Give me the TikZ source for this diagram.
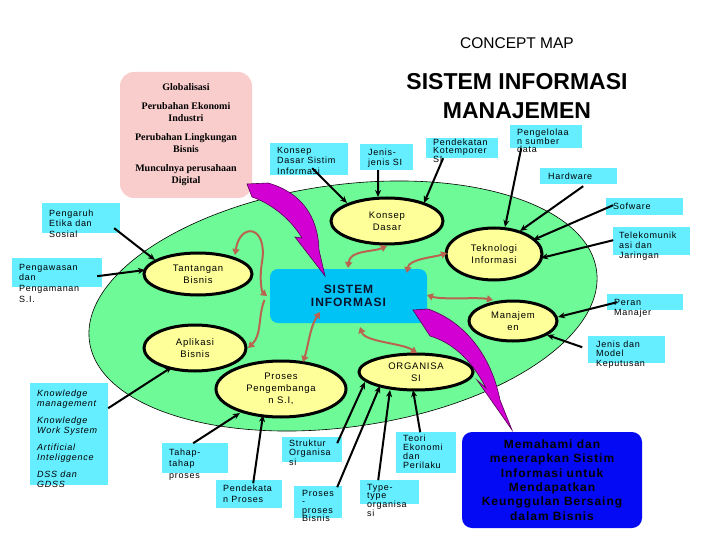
\documentclass[tikz,border=0pt]{standalone}
\usepackage{fontspec}
\setmainfont{Liberation Sans}
\newfontfamily\lblfont[LetterSpace=8]{Liberation Sans}
\newfontfamily\serifb{Liberation Serif}
\usetikzlibrary{shapes.geometric,arrows.meta,calc}
\definecolor{fieldgreen}{RGB}{110,250,150}
\definecolor{yelfill}{RGB}{255,255,153}
\definecolor{cyanlbl}{RGB}{100,238,255}
\definecolor{siboxc}{RGB}{0,195,245}
\definecolor{pinkbg}{RGB}{250,205,205}
\definecolor{brownar}{RGB}{185,100,80}
\definecolor{magar}{RGB}{210,0,210}
\definecolor{blueboxc}{RGB}{5,10,245}
\definecolor{navy}{RGB}{10,20,45}
\newcommand{\lab}[9]{%
  \node[cbox, minimum width=#4pt, minimum height=#5pt] (#1) at (#2,#3) {};
  \node[ctext, font=\lblfont\fontsize{9}{#8}\selectfont] (#1t) at ([shift={(#6pt,-#7pt)}]#1.north west) {#9};}
\begin{document}
\begin{tikzpicture}[x=1pt,y=-1pt,
  yell/.style={ellipse, draw=black, line width=3pt, fill=yelfill, inner sep=0pt, align=center,
    font=\lblfont\fontsize{9.5}{12}\selectfont},
  cbox/.style={rectangle, fill=cyanlbl, inner sep=0pt, anchor=north west},
  ctext/.style={anchor=north west, inner sep=0pt, align=left},
  blk/.style={line width=2pt, -{Stealth[length=7pt,width=6pt]}},
  brw/.style={draw=brownar, line width=2pt, {Triangle[length=6pt,width=7pt]}-{Triangle[length=6pt,width=7pt]}},
  brwone/.style={draw=brownar, line width=2pt, -{Triangle[length=6pt,width=7pt]}},
  mag/.style={fill=magar, draw=black!60!magar, line width=0.6pt}]
\fill[white] (0,0) rectangle (720,540);
\useasboundingbox (0,0) rectangle (720,540);

% field
\node[draw=black, line width=0.6pt, fill=fieldgreen, ellipse, minimum width=512pt, minimum height=242pt, rotate=8, inner sep=0pt] (field) at (343,306) {};

% pink context box
\node[fill=pinkbg, rounded corners=14pt, minimum width=132pt, minimum height=126pt, inner sep=0pt, align=center,
  font=\serifb\bfseries\fontsize{10}{12.5}\selectfont] (ctx) at (186,135)
  {Globalisasi\\[6pt]Perubahan Ekonomi\\Industri\\[6pt]Perubahan Lingkungan\\Bisnis\\[6pt]Munculnya perusahaan\\Digital};

% titles
\node[font=\fontsize{15.5}{17}\selectfont] (cm) at (517,43) {CONCEPT MAP};
\node[font=\bfseries\fontsize{23}{28.5}\selectfont, align=center] (title) at (517,96) {SISTEM INFORMASI\\MANAJEMEN};

% cyan labels
\lab{kdsi}{270}{143}{78}{32}{7}{3.7}{10.5}{Konsep\\Dasar Sistim\\Informasi}
\lab{js}{360}{144}{53}{26}{8}{4.7}{10}{Jenis-\\jenis SI}
\lab{pk}{426}{138}{72}{20}{7}{0.7}{8.5}{Pendekatan\\Kotemporer\\SI}
\lab{psd}{510}{125}{72}{23}{7}{3.7}{8}{Pengelolaa\\n sumber\\data}
\lab{hw}{540}{168}{77}{16}{8}{4.7}{10}{Hardware}
\lab{sw}{606}{198}{77}{17}{7}{4.7}{10}{Sofware}
\lab{tel}{613}{227}{77}{28}{6}{4.7}{10}{Telekomunik\\asi dan\\Jaringan}
\lab{pm}{607}{294}{76}{16}{7}{4.7}{10}{Peran\\Manajer}
\lab{jmk}{588}{336}{77}{27}{8}{4.7}{9.5}{Jenis dan\\Model\\Keputusan}
\lab{pes}{42}{203}{78}{30}{7}{6.7}{10.5}{Pengaruh\\Etika dan\\Sosial}
\lab{pp}{12}{258}{90}{29}{7}{5.7}{10.7}{Pengawasan\\dan\\Pengamanan\\S.I.}
\lab{kn}{30}{383}{78}{102}{7}{6.7}{10}{\itshape Knowledge\\\itshape management\\[7pt]\itshape Knowledge\\\itshape Work System\\[7pt]\itshape Artificial\\\itshape Inteliggence\\[7pt]\itshape DSS dan\\\itshape GDSS}
\lab{tt}{162}{443}{66}{30}{7}{5.7}{11.5}{Tahap-\\tahap\\proses}
\lab{pdp}{216}{480}{66}{28}{7}{4.7}{11}{Pendekata\\n Proses}
\lab{so}{282}{437}{60}{25}{7}{2.7}{9.5}{Struktur\\Organisa\\si}
\lab{ppb}{294}{486}{48}{32}{8}{3.7}{8.5}{Proses\\-\\proses\\Bisnis}
\lab{tto}{360}{480}{59}{24}{7}{3.7}{8.7}{Type-\\type\\organisa\\si}
\lab{te}{396}{432}{60}{41}{7}{2.7}{9}{Teori\\Ekonomi\\dan\\Perilaku}

% yellow ellipses
\node[yell, minimum width=112pt, minimum height=46pt] (kd) at (387,221) {Konsep\\Dasar};
\node[yell, minimum width=96pt, minimum height=52pt] (ti) at (494,254) {Teknologi\\Informasi};
\node[yell, minimum width=108pt, minimum height=42pt] (tb) at (198,274) {Tantangan\\Bisnis};
\node[yell, minimum width=102pt, minimum height=46pt] (ab) at (195,348) {Aplikasi\\Bisnis};
\node[yell, minimum width=130pt, minimum height=56pt] (ppsi) at (281,389) {Proses\\Pengembanga\\n S.I,};
\node[yell, minimum width=114pt, minimum height=36pt] (org) at (416,372) {ORGANISA\\SI};
\node[yell, minimum width=88pt, minimum height=40pt] (mj) at (513,321) {Manajem\\en};

% central box
\node[fill=siboxc, rounded corners=8pt, minimum width=157pt, minimum height=54pt, inner sep=0pt, align=center,
  text=navy, font=\lblfont\bfseries\fontsize{12}{12.5}\selectfont] (si) at (348.5,296) {SISTEM\\INFORMASI};

% goal box
\node[fill=blueboxc, rounded corners=10pt, minimum width=180pt, minimum height=96pt, inner sep=0pt, align=center,
  text=black, font=\lblfont\bfseries\fontsize{12}{14.4}\selectfont] (goal) at (552,480)
  {Memahami dan\\menerapkan Sistim\\Informasi untuk\\Mendapatkan\\Keunggulan Bersaing\\dalam Bisnis};

% brown two-way arrows
\draw[brw] ($(si.center)+(-0.5,-28)$) .. controls +(2,-18) and +(-14,6) .. ($(kd.center)+(0,25)$);
\draw[brw] ($(si.center)+(58.5,-23)$) .. controls +(2,-14) and +(-12,4) .. ($(ti.center)+(-47,-1)$);
\draw[brw] ($(si.center)+(78.5,-1)$) .. controls +(15,5) and +(-15,-3) .. ($(mj.center)+(-20,-21)$);
\draw[brw] ($(si.center)+(11.5,31)$) .. controls +(5,15) and +(-15,-10) .. ($(org.center)+(1,-19)$);
\draw[brw] ($(si.center)+(-28.5,16)$) .. controls +(-10,15) and +(5,-15) .. ($(ppsi.center)+(22,-27)$);
\draw[brw] ($(tb.center)+(37,-19)$) .. controls (240,222) and (268,225) .. (262,262) .. controls (259,280) and (262,292) .. ($(si.center)+(-81.5,0)$);
\draw[brwone] ($(si.center)+(-84,4)$) .. controls (258,315) and (262,335) .. ($(ab.center)+(53,0)$);

% black arrows
\draw[blk] ($(kdsi.center)+(3,9)$) -- ($(kd.center)+(-40,-18)$);
\draw[blk] ($(js.center)+(-8.5,13)$) -- ($(kd.center)+(-9,-24)$);
\draw[blk] ($(pk.center)+(-19,10)$) -- ($(kd.center)+(37,-18)$);
\draw[blk] ($(psd.center)+(-25,11.5)$) -- ($(ti.center)+(11,-27)$);
\draw[blk] ($(hw.center)+(4.5,10)$) -- ($(ti.center)+(26,-23)$);
\draw[blk] ($(sw.center)+(-31.5,-1.5)$) -- ($(ti.center)+(39,-14)$);
\draw[blk] ($(tel.center)+(-38.5,-1)$) -- ($(ti.center)+(47,4)$);
\draw[blk] ($(pm.center)+(-28,0)$) -- ($(mj.center)+(45,-4)$);
\draw[blk] ($(jmk.center)+(-44.5,-2.5)$) -- ($(mj.center)+(34,14)$);
\draw[blk] ($(pes.center)+(33,10)$) -- ($(tb.center)+(-43,-14)$);
\draw[blk] ($(pp.center)+(40,3.5)$) -- ($(tb.center)+(-53,-4)$);
\draw[blk] ($(kn.center)+(39,-26)$) -- ($(ab.center)+(-23,19)$);
\draw[blk] ($(tt.center)+(-2,-15)$) -- ($(ppsi.center)+(-41,24)$);
\draw[blk] ($(pdp.center)+(4,-11)$) -- ($(ppsi.center)+(-18,26)$);
\draw[blk] ($(so.center)+(25,-6.5)$) -- ($(org.center)+(-51,10)$);
\draw[blk] ($(ppb.center)+(19,-15)$) -- ($(org.center)+(-36,14)$);
\draw[blk] ($(tto.center)+(-11.5,-12)$) -- ($(org.center)+(-26,18)$);
\draw[blk] ($(te.center)+(-6,-20.5)$) -- ($(org.center)+(-3,18)$);

% magenta block arrows
\path[mag] (247,184) -- (268,183) .. controls (300,192) and (318,215) .. (319,250) -- (325,276) -- (295,237) -- (302,238)
  .. controls (290,218) and (270,203) .. (252,197) -- cycle;
\path[mag] (413,310) -- (428,309) .. controls (460,320) and (490,350) .. (500,400) -- (512,430) -- (477,380) -- (486,388)
  .. controls (470,357) and (450,342) .. (430,336) -- cycle;
\end{tikzpicture}
\end{document}
